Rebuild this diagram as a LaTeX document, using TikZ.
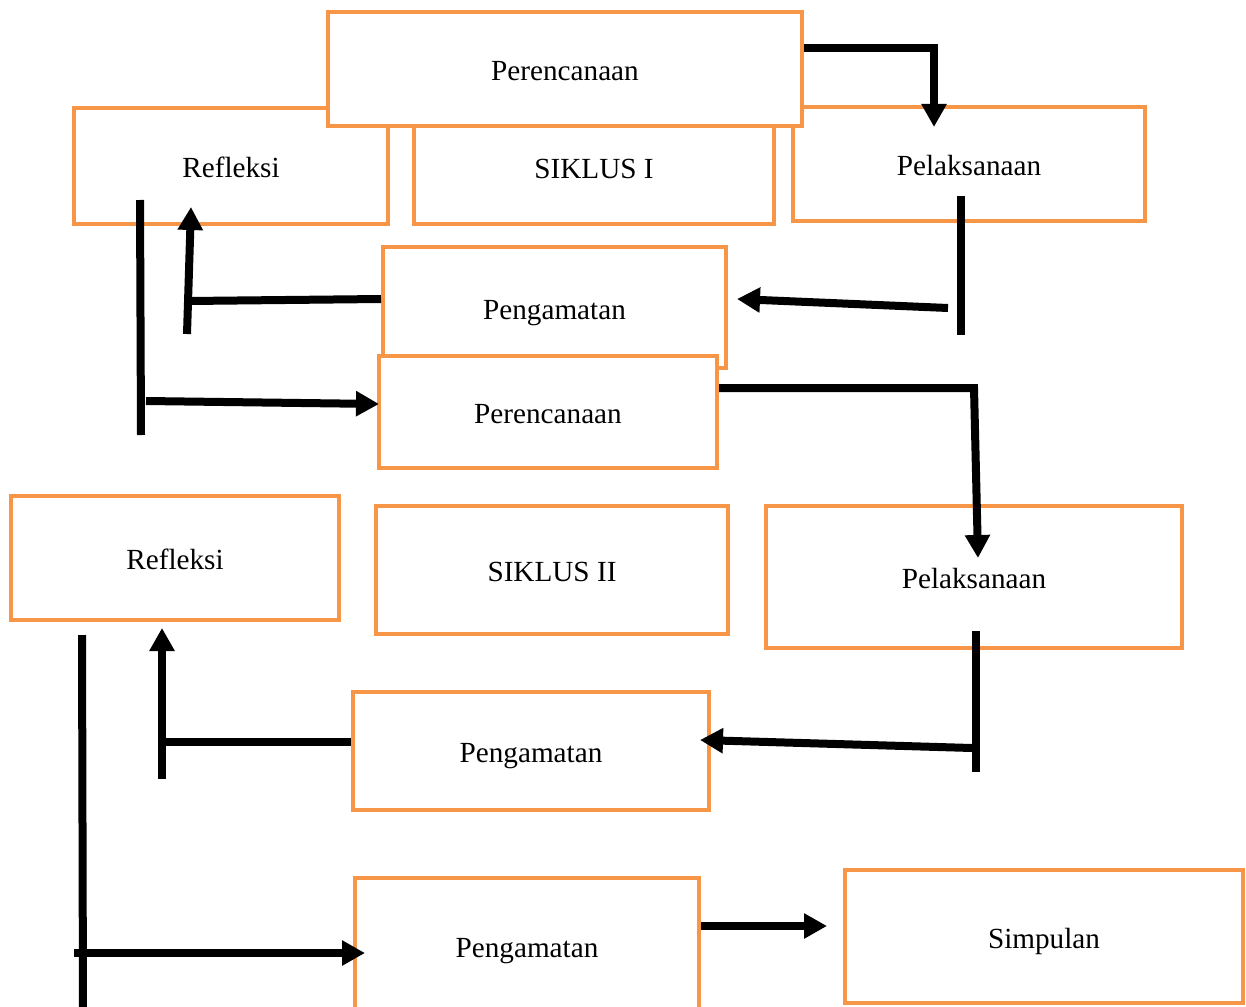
\documentclass[tikz,border=0pt]{standalone}
\usepackage{fontspec}
\setmainfont{Liberation Serif}
\usetikzlibrary{arrows.meta}
\definecolor{boxorange}{HTML}{F79646}
\begin{document}
\begin{tikzpicture}[x=0.5pt,y=-0.5pt,
  box/.style={draw=boxorange,line width=2pt,fill=white,inner sep=0pt,
    text height=11.5pt,text depth=0pt,
    font=\fontsize{14.6}{17}\selectfont},
  link/.style={line width=4pt,black,line join=miter},
  tipped/.style={link,-{Triangle[width=12pt,length=11.5pt]}}]
\clip (0,0) rectangle (1246,1006);
\fill[white] (0,0) rectangle (1246,1006);
% row 1 (behind)
\node[box,minimum width=157pt,minimum height=58pt] (refA) at (231,166) {Refleksi};
\node[box,minimum width=180pt,minimum height=57pt] (sikA) at (594,167) {SIKLUS I};
\node[box,minimum width=176pt,minimum height=57pt] (pelA) at (969,164) {Pelaksanaan};
\node[box,minimum width=237pt,minimum height=57pt] (perA) at (565,69) {Perencanaan};
% row 2
\node[box,minimum width=171.5pt,minimum height=60.5pt] (pngA) at (554.5,307.5) {Pengamatan};
\node[box,minimum width=169pt,minimum height=56pt] (perB) at (548,412) {Perencanaan};
% row 3
\node[box,minimum width=164pt,minimum height=62pt] (refB) at (175,558) {Refleksi};
\node[box,minimum width=176pt,minimum height=64pt] (sikB) at (552,570) {SIKLUS II};
\node[box,minimum width=208pt,minimum height=71pt] (pelB) at (974,577) {Pelaksanaan};
% row 4
\node[box,minimum width=178pt,minimum height=59pt] (pngB) at (531,751) {Pengamatan};
\node[box,minimum width=172pt,minimum height=68pt] (pngC) at (527,946) {Pengamatan};
\node[box,minimum width=199pt,minimum height=66.5pt] (simp) at (1044,936.5) {Simpulan};
% coordinates for free ends
\coordinate (a1c) at (934,48);
\coordinate (a1e) at (934,127);
\coordinate (b2t) at (961,196);
\coordinate (b2b) at (961,335);
\coordinate (a2s) at (948,308);
\coordinate (a2e) at (737,299);
\coordinate (b3b) at (187,334);
\coordinate (b3t) at (191,207);
\coordinate (a3e) at (189,301);
\coordinate (b4t) at (140,200);
\coordinate (b4b) at (141,435);
\coordinate (a4s) at (146,401);
\coordinate (a4e) at (379,404);
\coordinate (a5c) at (974,388);
\coordinate (a5e) at (978,558);
\coordinate (b6t) at (976,631);
\coordinate (b6b) at (976,772);
\coordinate (a6s) at (972,748);
\coordinate (a6e) at (700,740);
\coordinate (b7b) at (162,779);
\coordinate (b7t) at (162,628);
\coordinate (a7e) at (162,742);
\coordinate (b8t) at (82,635);
\coordinate (b8b) at (83,1012);
\coordinate (a8s) at (74,953);
\coordinate (a8e) at (365,953);
\coordinate (a9e) at (827,926);
% connectors, cycle I
\draw[tipped] (perA.east |- a1c) -- (a1c) -- (a1e);
\draw[link] (b2t) -- (b2b);
\draw[tipped] (a2s) -- (a2e);
\draw[tipped] (b3b) -- (b3t);
\draw[link] (pngA.west |- 0,299) -- (a3e);
\draw[link] (b4t) -- (b4b);
\draw[tipped] (a4s) -- (a4e);
\draw[tipped] (perB.east |- a5c) -- (a5c) -- (a5e);
% connectors, cycle II
\draw[link] (b6t) -- (b6b);
\draw[tipped] (a6s) -- (a6e);
\draw[tipped] (b7b) -- (b7t);
\draw[link] (pngB.west |- a7e) -- (a7e);
\draw[link] (b8t) -- (b8b);
\draw[tipped] (a8s) -- (a8e);
\draw[tipped] (pngC.east |- a9e) -- (a9e);
\end{tikzpicture}
\end{document}
